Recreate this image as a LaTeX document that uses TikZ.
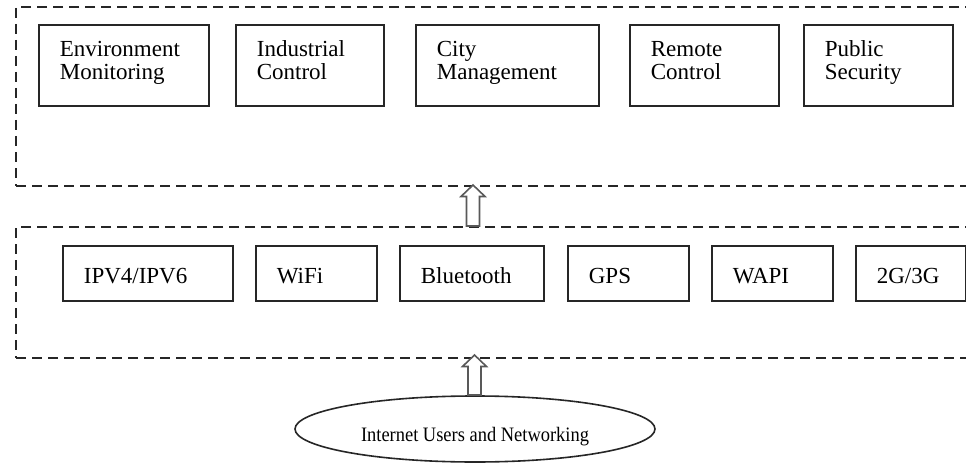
\documentclass[tikz,border=0pt]{standalone}
\usepackage{fontspec}
\setmainfont{Liberation Serif}
\newfontfamily\narrowfont{Liberation Serif}[FakeStretch=0.9]
\usetikzlibrary{shapes.geometric,calc}
\newcommand\hollowarrow[2]{%
  \draw[blockarr] let \p1=(#1), \p2=(#2) in
    (\x1-6.5pt,\y1) -- (\x1-6.5pt,\y2-11.5pt) -- (\x1-12pt,\y2-11.5pt) -- (\x2,\y2)
    -- (\x1+12pt,\y2-11.5pt) -- (\x1+6.5pt,\y2-11.5pt) -- (\x1+6.5pt,\y1) -- cycle;}
\begin{document}
\begin{tikzpicture}[x=1pt,y=-1pt,
  container/.style={draw=black!85, line width=2pt, dash pattern=on 10pt off 6pt, anchor=north west, inner sep=0pt},
  appbox/.style={draw=black!85, line width=1.7pt, anchor=north west, minimum height=81pt, align=left,
     inner xsep=21pt, inner ysep=0pt, text height=16pt, text depth=33pt, font=\fontsize{23}{23}\selectfont},
  netbox/.style={draw=black!85, line width=1.7pt, anchor=north west, minimum height=55pt, align=left,
     inner xsep=21pt, inner ysep=0pt, text height=21pt, text depth=0pt, font=\fontsize{23}{23}\selectfont},
  blockarr/.style={draw=black!65, line width=1.6pt, fill=white, line join=miter}]
\useasboundingbox (0,0) rectangle (966,468);
\fill[white] (0,0) rectangle (966,468);

% containers
\node[container, minimum width=990pt, minimum height=179pt] (app) at (15,6) {};
\node[container, minimum width=990pt, minimum height=131pt] (net) at (15,226) {};

% application boxes
\node[appbox, text width=128pt] (env)  at (38,24)  {Environment\\Monitoring};
\node[appbox, text width=106pt] (ind)  at (235,24) {Industrial\\Control};
\node[appbox, text width=141pt] (city) at (415,24) {City\\Management};
\node[appbox, text width=107pt] (rem)  at (629,24) {Remote\\Control};
\node[appbox, text width=107pt] (pub)  at (803,24) {Public\\Security};

% network boxes
\node[netbox, text width=128pt] (ip)   at (62,245)  {IPV4/IPV6};
\node[netbox, text width=79pt]  (wifi) at (255,245) {WiFi};
\node[netbox, text width=102pt] (bt)   at (399,245) {Bluetooth};
\node[netbox, text width=79pt]  (gps)  at (567,245) {GPS};
\node[netbox, text width=79pt]  (wapi) at (711,245) {WAPI};
\node[netbox, text width=68pt]  (g23)  at (855,245) {2G/3G};

% users ellipse
\node[draw=black!85, line width=1.6pt, ellipse, minimum width=360pt, minimum height=66pt, inner sep=0pt,
      font=\narrowfont\fontsize{20.5}{20.5}\selectfont, text height=24pt, text depth=0pt]
      (users) at (475,429) {Internet Users and Networking};

% hollow arrows
\coordinate (a1from) at (473,226);
\coordinate (a1to)   at (473,185);
\coordinate (a2from) at (474.5,395);
\coordinate (a2to)   at (474.5,355);
\hollowarrow{a1from}{a1to}
\hollowarrow{a2from}{a2to}
\end{tikzpicture}
\end{document}
